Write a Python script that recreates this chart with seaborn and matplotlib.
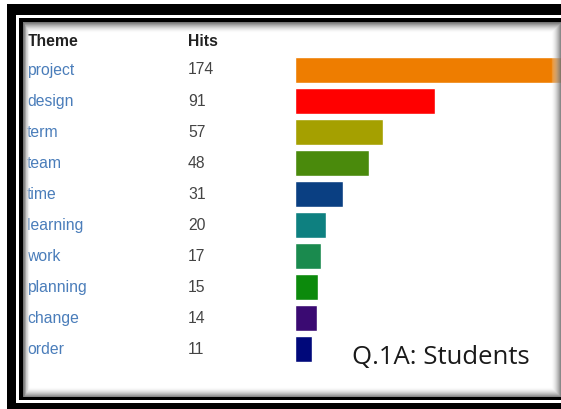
import matplotlib
matplotlib.use("Agg")
import matplotlib.pyplot as plt
import seaborn as sns
import pandas as pd
from matplotlib.patches import Rectangle

themes = ["project", "design", "term", "team", "time", "learning", "work", "planning", "change", "order"]
hits = [174, 91, 57, 48, 31, 20, 17, 15, 14, 11]
colors = ["#EE7D00", "#FF0000", "#A5A000", "#4A8A0C", "#0A3F82", "#0E8080", "#1A8A4E", "#0C8A0C", "#3A0A72", "#00087A"]
header = ["Theme", "Hits"]
caption = "Q.1A: Students"

sns.set_theme(style="white")
plt.rcParams["font.family"] = ["Liberation Sans", "DejaVu Sans"]

W, H = 561, 409
fig = plt.figure(figsize=(W / 100, H / 100), dpi=100)
fig.patch.set_facecolor("white")

ax = fig.add_axes([0, 0, 1, 1])
x0_px, px_per_unit = 295, 1.538
row0_px, row_px = 70, 31.05

df = pd.DataFrame({"theme": themes, "hits": hits})
sns.barplot(data=df, y="theme", x="hits", hue="theme", palette=colors,
            orient="h", width=0.84, legend=False, ax=ax, saturation=1)
ax.set_xlim(-x0_px / px_per_unit, (W - x0_px) / px_per_unit)
ax.set_ylim((H - row0_px) / row_px, -row0_px / row_px)
ax.axis("off")

def px_to_data(xp, yp):
    return (xp - x0_px) / px_per_unit, (yp - row0_px) / row_px

fs = 11.3
hx, hy = px_to_data(28, 42)
ax.text(hx, hy, header[0], fontsize=fs, fontweight="bold", color="#222222", va="center", ha="left")
hx2, _ = px_to_data(188, 42)
ax.text(hx2, hy, header[1], fontsize=fs, fontweight="bold", color="#222222", va="center", ha="left")

nx, _ = px_to_data(27, 0)
vx, _ = px_to_data(188, 0)
for i, (t, h) in enumerate(zip(themes, hits)):
    ax.text(nx, i, t, fontsize=fs, color="#4A7DBA", va="center", ha="left")
    ax.text(vx, i, str(h), fontsize=fs, color="#444444", va="center", ha="left")

cx, cy = px_to_data(352, 357)
ax.text(cx, cy, caption, fontsize=18.5, color="#1a1a1a", va="center", ha="left",
        family=["Open Sans", "DejaVu Sans"])

# frame overlay in pixel coords
ov = fig.add_axes([0, 0, 1, 1], zorder=5)
ov.set_xlim(0, W)
ov.set_ylim(H, 0)
ov.axis("off")
ov.patch.set_alpha(0)

# inner shadow gradient (top, left, bottom, right edge of image)
for k in range(10):
    g = 0.40 + 0.06 * k
    a = 0.9 - k * 0.08
    ov.add_patch(Rectangle((23 + k * 0.6, 21.5 + k), 561 - k - (23 + k * 0.6), 396.5 - k - (21.5 + k),
                           fill=False, lw=1, ec=(g, g, g), alpha=a))
# inner black lines
ov.add_patch(Rectangle((19, 18), W - 19, 3.5, color="black", lw=0))
ov.add_patch(Rectangle((19, 18), 4, 382, color="black", lw=0))
ov.add_patch(Rectangle((19, 396.5), W - 19, 3.5, color="black", lw=0))
# outer black band
ov.add_patch(Rectangle((7, 4), W - 7, 11, color="black", lw=0))
ov.add_patch(Rectangle((7, 4), 9, H - 4, color="black", lw=0))
ov.add_patch(Rectangle((7, 403), W - 7, 6, color="black", lw=0))

fig.savefig("out.png", dpi=100, facecolor="white")
